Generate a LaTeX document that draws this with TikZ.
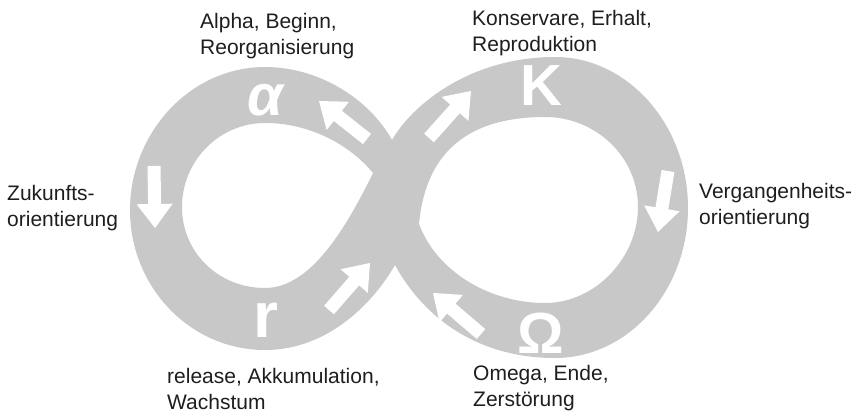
\documentclass[tikz,border=0pt]{standalone}
\usepackage{fontspec}
\setmainfont{Liberation Sans}
\usetikzlibrary{calc}

\definecolor{bandgray}{RGB}{200,200,200}
\definecolor{labelink}{RGB}{30,30,30}

\tikzset{
  band/.style={fill=bandgray, even odd rule},
  arrowfill/.style={fill=white},
  symbol/.style={text=white, inner sep=0pt, font=\bfseries\fontsize{58}{58}\selectfont},
  caption/.style={text=labelink, inner sep=0pt, anchor=north west, align=left,
                  font=\fontsize{21}{26}\selectfont},
}

% block arrow from tail #2 to tip #3, named #1
\newcommand{\fatarrow}[3]{%
  \coordinate (#1-t) at #2;
  \coordinate (#1-h) at #3;
  \coordinate (#1-n) at ($(#1-h)!24pt!(#1-t)$);
  \fill[arrowfill] ($(#1-t)!6.5pt!90:(#1-h)$) -- ($(#1-n)!6.5pt!90:(#1-h)$)
    -- ($(#1-n)!18pt!90:(#1-h)$) -- (#1-h) -- ($(#1-n)!18pt!-90:(#1-h)$)
    -- ($(#1-n)!6.5pt!-90:(#1-h)$) -- ($(#1-t)!6.5pt!-90:(#1-h)$) -- cycle;
}

\begin{document}
\begin{tikzpicture}[x=1pt, y=-1pt]
\useasboundingbox (0,0) rectangle (860,415);

% the figure-eight band: outer outline with the two loop holes cut out
\path[band]
  % outer outline
  (392,140) .. controls (412,105) and (470,57) .. (555,57)
            .. controls (628,57) and (688,125) .. (688,208)
            .. controls (688,291) and (628,358) .. (555,358)
            .. controls (480,358) and (425,320) .. (395,265)
            .. controls (375,300) and (330,350) .. (265,350)
            .. controls (190,350) and (130,287) .. (130,210)
            .. controls (130,133) and (190,67) .. (265,67)
            .. controls (320,67) and (370,100) .. (392,140) -- cycle
  % left hole
  (373,173) .. controls (350,145) and (310,123) .. (265,123)
            .. controls (219,123) and (182,161) .. (182,207)
            .. controls (182,253) and (219,288) .. (265,288)
            .. controls (310,288) and (345,230) .. (373,173) -- cycle
  % right hole
  (419,224) .. controls (425,160) and (460,117) .. (545,117)
            .. controls (596,117) and (638,157) .. (638,207)
            .. controls (638,257) and (596,303) .. (545,303)
            .. controls (490,303) and (437,272) .. (419,224) -- cycle;

% direction arrows along the band
\fatarrow{a1}{(154,166)}{(155,228)}
\fatarrow{a2}{(367,139)}{(319,101)}
\fatarrow{a3}{(329,310)}{(370,263)}
\fatarrow{a4}{(429,138)}{(471,91)}
\fatarrow{a5}{(668,171)}{(658,232)}
\fatarrow{a6}{(481,334)}{(433,293)}

% phase symbols
\node[symbol] (alpha) at (265,100) {\itshape α};
\node[symbol] (kappa) at (541,86) {K};
\node[symbol, font=\bfseries\fontsize{64}{64}\selectfont] (rr) at (266,320) {r};
\node[symbol] (omega) at (541,333) {Ω};

% phase descriptions
\node[caption] (alphatxt) at (200,13) {Alpha, Beginn,\\Reorganisierung};
\node[caption] (kappatxt) at (472,10) {Konservare, Erhalt,\\Reproduktion};
\node[caption] (rtxt) at (167,368) {release, Akkumulation,\\Wachstum};
\node[caption] (omegatxt) at (473,365) {Omega, Ende,\\Zerstörung};
\node[caption] (future) at (7,185) {Zukunfts-\\orientierung};
\node[caption] (past) at (699,183) {Vergangenheits-\\orientierung};
\end{tikzpicture}
\end{document}
